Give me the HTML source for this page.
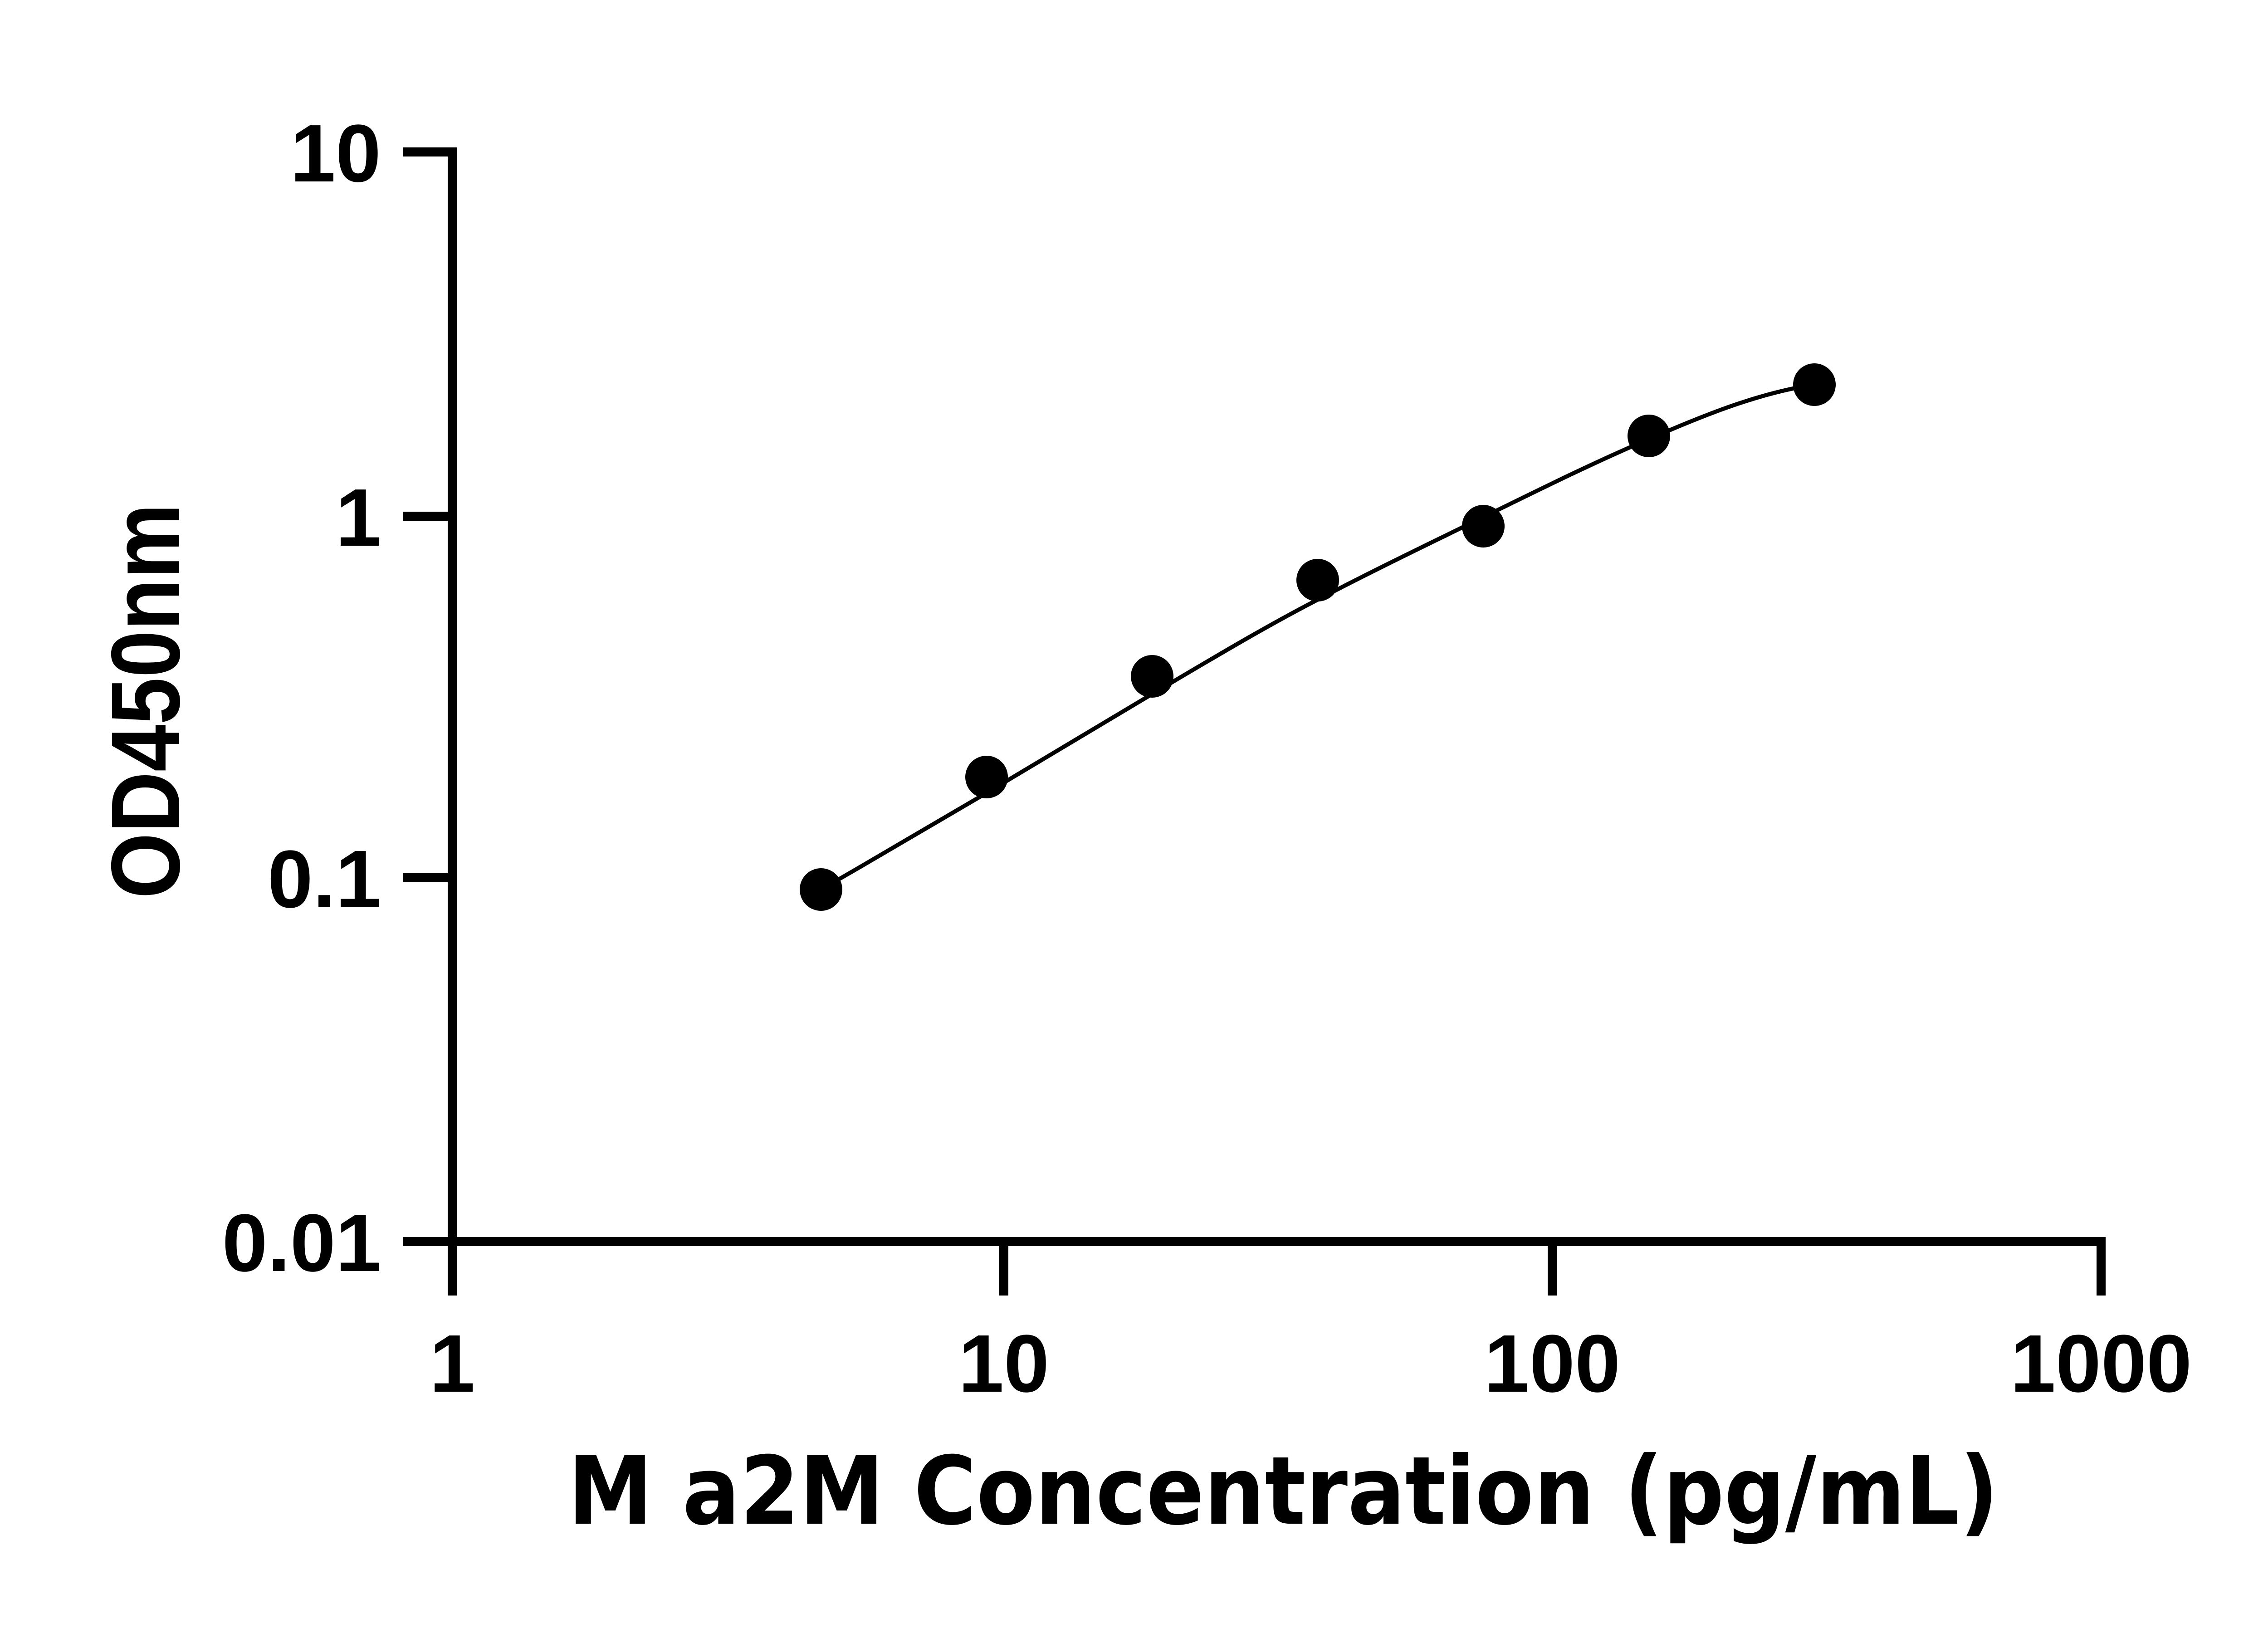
<!DOCTYPE html>
<html><head><meta charset="utf-8"><style>html,body{margin:0;padding:0;background:#fff}svg{display:block}</style></head>
<body>
<svg width="5142" height="3600" viewBox="0 0 5142 3600" xmlns="http://www.w3.org/2000/svg">
<rect width="5142" height="3600" fill="#fff"/>
<g stroke="#000" stroke-width="20" fill="none" stroke-linecap="butt">
<line x1="997" y1="325" x2="997" y2="2856"/>
<line x1="888" y1="335" x2="997" y2="335"/>
<line x1="888" y1="1138" x2="997" y2="1138"/>
<line x1="888" y1="1935" x2="997" y2="1935"/>
<line x1="888" y1="2737" x2="4632" y2="2737"/>
<line x1="2213" y1="2737" x2="2213" y2="2856"/>
<line x1="3422" y1="2737" x2="3422" y2="2856"/>
<line x1="4632" y1="2727" x2="4632" y2="2856"/>
</g>
<path d="M1810,1961 C1932,1891 2053,1820 2175,1748 C2297,1676 2418,1602 2540,1530 C2662,1458 2783,1385 2905,1322 C3027,1258 3148,1200 3270,1140 C3392,1080 3513,1020 3635,968 C3757,915 3878,866 4000,848" stroke="#000" stroke-width="9" fill="none"/>
<g fill="#000">
<circle cx="1810" cy="1961" r="47"/>
<circle cx="2175" cy="1713" r="47"/>
<circle cx="2540" cy="1491" r="47"/>
<circle cx="2905" cy="1279" r="47"/>
<circle cx="3270" cy="1160" r="47"/>
<circle cx="3635" cy="961" r="47"/>
<circle cx="4000" cy="848" r="47"/>
</g>
<g font-family="Liberation Sans, Arial, sans-serif" font-weight="bold" font-size="180" fill="#000">
<text x="840" y="400" text-anchor="end">10</text>
<text x="840" y="1203" text-anchor="end">1</text>
<text x="840" y="2000" text-anchor="end">0.1</text>
<text x="840" y="2802" text-anchor="end">0.01</text>
<text x="997" y="3068" text-anchor="middle">1</text>
<text x="2213" y="3068" text-anchor="middle">10</text>
<text x="3422" y="3068" text-anchor="middle">100</text>
<text x="4632" y="3068" text-anchor="middle">1000</text>
</g>
<text x="1252" y="3359" font-family="DejaVu Sans, sans-serif" font-weight="bold" font-size="208" textLength="3154" lengthAdjust="spacingAndGlyphs" fill="#000">M a2M Concentration (pg/mL)</text>
<text transform="translate(395,1981) rotate(-90)" x="0" y="0" font-family="Liberation Sans, Arial, sans-serif" font-weight="bold" font-size="215" textLength="871" lengthAdjust="spacingAndGlyphs" fill="#000">OD450nm</text>
</svg>
</body></html>
